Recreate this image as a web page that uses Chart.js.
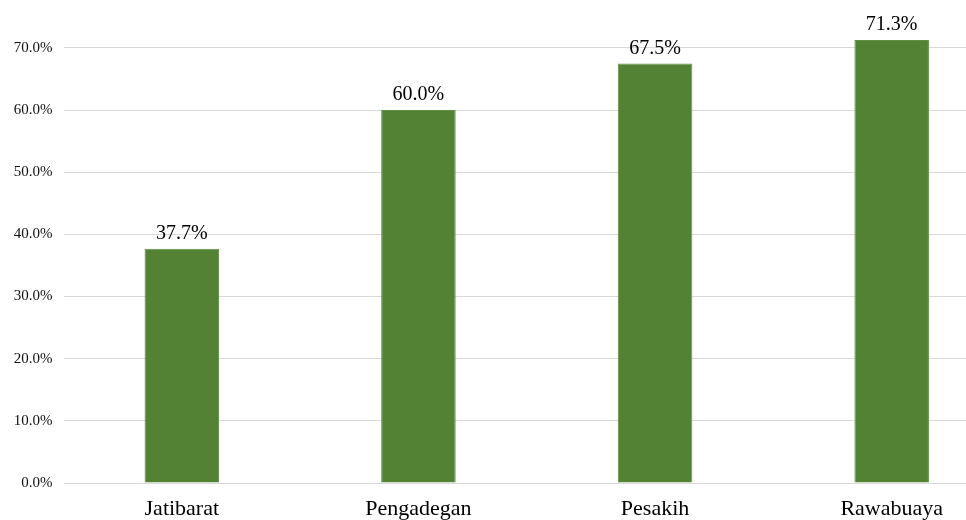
<!DOCTYPE html>
<html>
<head>
<meta charset="utf-8">
<script src="https://cdn.jsdelivr.net/npm/chart.js@4"></script>
<style>
  html, body { margin: 0; padding: 0; background: #fff; overflow: hidden; }
  #wrap { width: 1010px; height: 520px; }
</style>
</head>
<body>
<div id="wrap"><canvas id="myChart" width="1010" height="520"></canvas></div>
<script>
const villages = ['Jatibarat', 'Pengadegan', 'Pesakih', 'Rawabuaya'];
const shares = [37.7, 60.0, 67.5, 71.3];

// draws the value above each bar
const barLabels = {
    id: 'barLabels',
    afterDatasetsDraw(chart) {
        const ctx = chart.ctx;
        const meta = chart.getDatasetMeta(0);
        ctx.save();
        ctx.font = '20px "Liberation Serif"';
        ctx.fillStyle = '#000';
        ctx.textAlign = 'center';
        ctx.textBaseline = 'bottom';
        meta.data.forEach((bar, i) => {
            ctx.fillText(shares[i].toFixed(1) + '%', bar.x, bar.y - 5);
        });
        ctx.restore();
    }
};

const myChart = new Chart(document.getElementById('myChart'), {
    type: 'bar',
    data: {
        labels: villages,
        datasets: [{
            data: shares,
            backgroundColor: '#548235',
            borderColor: '#5f8f3f',
            borderWidth: 1,
            barPercentage: 0.63,
            categoryPercentage: 0.5
        }]
    },
    options: {
        responsive: false,
        animation: false,
        layout: { padding: { top: 3, right: 0, left: 0, bottom: 0 } },
        plugins: {
            legend: { display: false },
            tooltip: { enabled: false }
        },
        scales: {
            x: {
                grid: { display: false },
                border: { display: false },
                ticks: {
                    color: '#000',
                    padding: 5,
                    font: { family: 'Liberation Serif', size: 22 }
                },
                afterFit(scale) { scale.height = 37; }
            },
            y: {
                min: 0,
                max: 74.5,
                grid: { color: '#d9d9d9', drawTicks: false, lineWidth: 1 },
                border: { display: false },
                ticks: {
                    stepSize: 10,
                    includeBounds: false,
                    color: '#111',
                    padding: 11,
                    font: { family: 'Liberation Serif', size: 15 },
                    callback: function (value) {
                        return value.toFixed(1) + '%';
                    }
                },
                afterFit(scale) { scale.width = 63.5; }
            }
        }
    },
    plugins: [barLabels]
});
</script>
</body>
</html>
